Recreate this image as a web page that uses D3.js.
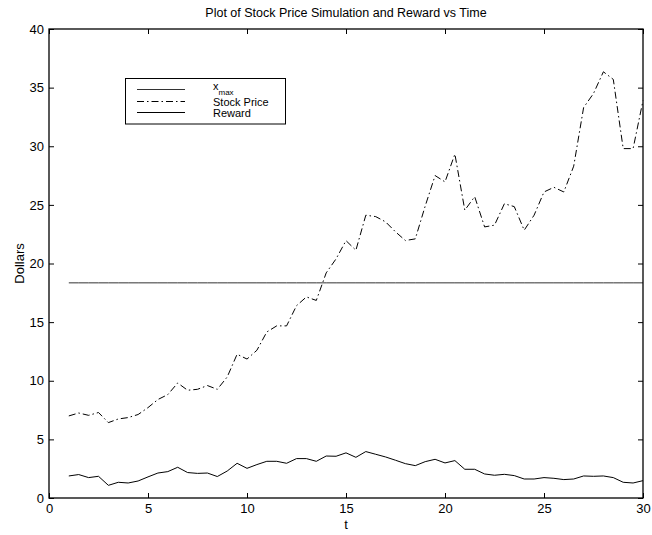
<!DOCTYPE html>
<html><head><meta charset="utf-8">
<script src="https://cdn.jsdelivr.net/npm/d3@7"></script>
<style>
html,body{margin:0;padding:0;background:#fff;}
svg text{font-family:"Liberation Sans",Arial,Helvetica,sans-serif;fill:#000;}
</style></head>
<body><svg id="chart" width="652" height="535"></svg>
<script>
const tValues = [1,1.5,2,2.5,3,3.5,4,4.5,5,5.5,6,6.5,7,7.5,8,8.5,9,9.5,10,10.5,11,11.5,12,12.5,13,13.5,14,14.5,15,15.5,16,16.5,17,17.5,18,18.5,19,19.5,20,20.5,21,21.5,22,22.5,23,23.5,24,24.5,25,25.5,26,26.5,27,27.5,28,28.5,29,29.5,30];
const stockPrice = [7.0,7.25,7.05,7.29,6.43,6.74,6.86,7.12,7.71,8.4,8.82,9.81,9.19,9.27,9.59,9.27,10.32,12.26,11.85,12.6,14.16,14.68,14.68,16.4,17.15,16.85,19.2,20.4,21.95,21.13,24.12,24.0,23.55,22.7,21.96,22.1,24.9,27.5,26.96,29.33,24.55,25.7,23.12,23.27,25.1,24.85,22.84,24.12,26.1,26.5,26.1,28.3,33.3,34.5,36.35,35.7,29.8,29.8,33.9];
const reward = [1.88,2.0,1.74,1.85,1.08,1.34,1.28,1.45,1.8,2.13,2.25,2.62,2.17,2.1,2.13,1.83,2.3,2.96,2.53,2.85,3.13,3.13,2.96,3.36,3.36,3.13,3.58,3.56,3.85,3.47,3.96,3.73,3.5,3.22,2.93,2.76,3.1,3.3,2.99,3.19,2.45,2.45,2.05,1.94,2.02,1.91,1.62,1.62,1.74,1.68,1.57,1.62,1.88,1.85,1.88,1.74,1.34,1.28,1.48];
const xMax = 18.35;
const xTicks = [0,5,10,15,20,25,30];
const yTicks = [0,5,10,15,20,25,30,35,40];
const legendLabels = ["x_max","Stock Price","Reward"];

const svg = d3.select("#chart");
const L=49, R=643, T=29, B=498;
const x = d3.scaleLinear().domain([0,30]).range([L,R]);
const y = d3.scaleLinear().domain([0,40]).range([B,T]);

function styleAxis(g, labels){
  g.select(".domain").remove();
  g.selectAll(".tick line").attr("stroke","#000").attr("stroke-width",1);
  if(!labels) g.selectAll(".tick text").remove();
  else g.selectAll(".tick text").attr("font-size","13px").attr("fill","#000");
}
svg.append("g").attr("transform",`translate(0,${B})`)
  .call(d3.axisBottom(x).tickValues(xTicks).tickFormat(d3.format("d")).tickSizeInner(-5).tickSizeOuter(0).tickPadding(6))
  .call(g=>styleAxis(g,true));
svg.append("g").attr("transform",`translate(0,${T})`)
  .call(d3.axisTop(x).tickValues(xTicks).tickSizeInner(-5).tickSizeOuter(0))
  .call(g=>styleAxis(g,false));
svg.append("g").attr("transform",`translate(${L},0)`)
  .call(d3.axisLeft(y).tickValues(yTicks).tickFormat(d3.format("d")).tickSizeInner(-5).tickSizeOuter(0).tickPadding(5))
  .call(g=>styleAxis(g,true));
svg.append("g").attr("transform",`translate(${R},0)`)
  .call(d3.axisRight(y).tickValues(yTicks).tickSizeInner(-5).tickSizeOuter(0))
  .call(g=>styleAxis(g,false));

const line = d3.line().x((d,i)=>x(tValues[i])).y(d=>y(d));
svg.append("path").datum(tValues.map(()=>xMax)).attr("d",line)
  .attr("fill","none").attr("stroke","#333").attr("stroke-width",1);
svg.append("path").datum(stockPrice).attr("d",line)
  .attr("fill","none").attr("stroke","#000").attr("stroke-width",1)
  .attr("stroke-dasharray","7,3,1.5,3");
svg.append("path").datum(reward).attr("d",line)
  .attr("fill","none").attr("stroke","#000").attr("stroke-width",1);

svg.append("rect").attr("x",L).attr("y",T).attr("width",R-L).attr("height",B-T)
  .attr("fill","none").attr("stroke","#000").attr("stroke-width",1.3);

svg.append("text").attr("x",(L+R)/2).attr("y",17).attr("text-anchor","middle")
  .attr("font-size","12.5px").text("Plot of Stock Price Simulation and Reward vs Time");
svg.append("text").attr("x",(L+R)/2).attr("y",529).attr("text-anchor","middle")
  .attr("font-size","13px").text("t");
svg.append("text").attr("transform",`translate(24,${(T+B)/2}) rotate(-90)`).attr("text-anchor","middle")
  .attr("font-size","13px").text("Dollars");

// legend
const lg = svg.append("g");
lg.append("rect").attr("x",125.5).attr("y",78.5).attr("width",160).attr("height",45.5)
  .attr("fill","#fff").attr("stroke","#000").attr("stroke-width",1);
const rowY = [89.5,101.5,112.5];
const dashes = [null,"7,3,1.5,3",null];
rowY.forEach((ry,i)=>{
  lg.append("line").attr("x1",137).attr("x2",185).attr("y1",ry).attr("y2",ry)
    .attr("stroke",i===0?"#333":"#000").attr("stroke-width",1)
    .attr("stroke-dasharray",dashes[i]);
  const tx = lg.append("text").attr("x",213).attr("y",ry+4).attr("font-size","11px");
  if(legendLabels[i].includes("_")){
    const parts = legendLabels[i].split("_");
    tx.attr("y",ry+0.5).text(parts[0]);
    tx.append("tspan").attr("dy",5).attr("font-size","8px").text(parts[1]);
  } else tx.text(legendLabels[i]);
});
</script></body></html>
